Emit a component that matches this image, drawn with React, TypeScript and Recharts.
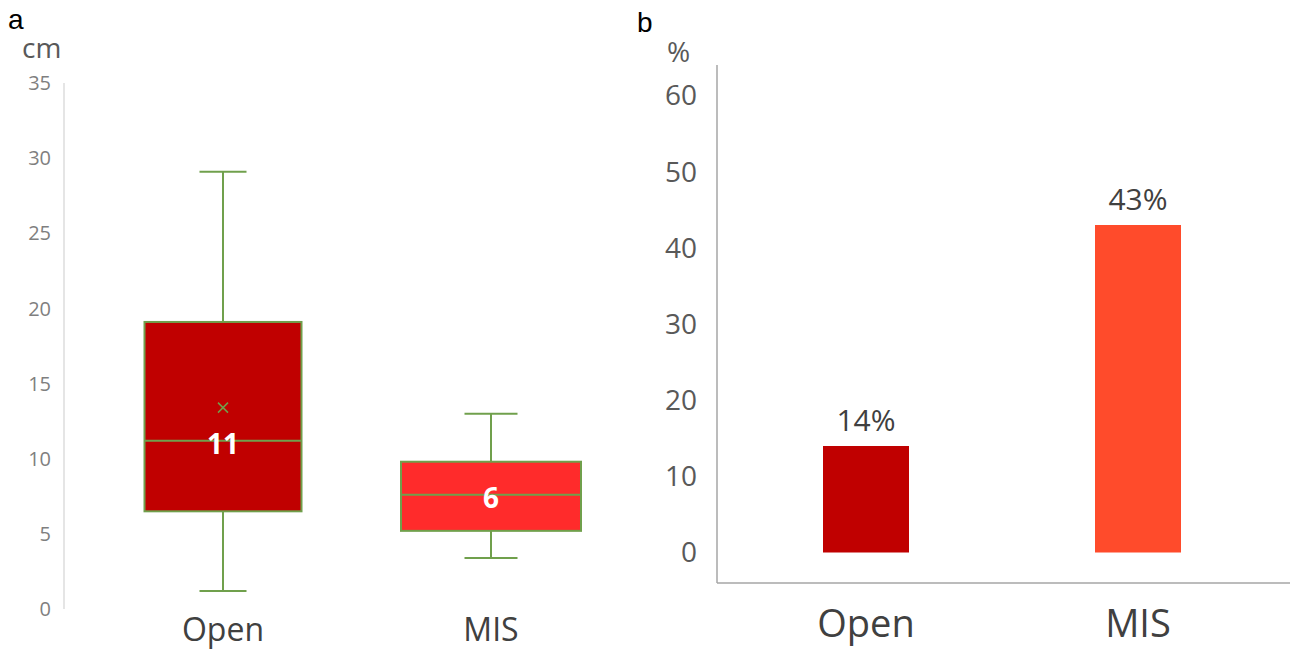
import { ComposedChart, BarChart, Bar, XAxis, YAxis, Cell, LabelList } from "recharts";

// panel a: length distribution (cm)
const boxCategories = ["Open", "MIS"];
const boxMin = [1.2, 3.4];
const boxQ1 = [6.5, 5.2];
const boxMedian = [11.2, 7.6];
const boxQ3 = [19.1, 9.8];
const boxMax = [29.1, 13.0];
const boxMean: (number | null)[] = [13.4, null];
const boxMedianLabels = ["11", "6"];
const boxTicks = [0, 5, 10, 15, 20, 25, 30, 35];

// panel b: rate (%)
const rateCategories = ["Open", "MIS"];
const rateValues = [14, 43];
const rateTicks = [0, 10, 20, 30, 40, 50, 60];

const boxData = boxCategories.map((name, i) => ({
  name,
  min: boxMin[i],
  q1: boxQ1[i],
  median: boxMedian[i],
  q3: boxQ3[i],
  max: boxMax[i],
  mean: boxMean[i],
  label: boxMedianLabels[i],
}));

const rateData = rateCategories.map((name, i) => ({ name, value: rateValues[i] }));

const GREEN = "#70a04c";
const FONT = "'Open Sans', sans-serif";
const boxLook: Record<string, { fill: string; width: number; cap: number }> = {
  Open: { fill: "#c00000", width: 157, cap: 47 },
  MIS: { fill: "#ff2b2b", width: 180, cap: 53 },
};
const barFills = ["#c00000", "#ff4b2b"];

const BoxShape = (props: any) => {
  const { x, y, width, height, payload } = props;
  const look = boxLook[payload.name];
  const ppu = height / (payload.max - payload.min);
  const py = (v: number) => y + (payload.max - v) * ppu;
  const cx = x + width / 2;
  const left = cx - look.width / 2;
  const right = cx + look.width / 2;
  return (
    <g>
      <line x1={cx} x2={cx} y1={py(payload.max)} y2={py(payload.q3)} stroke={GREEN} strokeWidth={2} />
      <line x1={cx} x2={cx} y1={py(payload.q1)} y2={py(payload.min)} stroke={GREEN} strokeWidth={2} />
      <line x1={cx - look.cap / 2} x2={cx + look.cap / 2} y1={py(payload.max)} y2={py(payload.max)} stroke={GREEN} strokeWidth={2} />
      <line x1={cx - look.cap / 2} x2={cx + look.cap / 2} y1={py(payload.min)} y2={py(payload.min)} stroke={GREEN} strokeWidth={2} />
      <rect
        x={left}
        y={py(payload.q3)}
        width={look.width}
        height={py(payload.q1) - py(payload.q3)}
        fill={look.fill}
        stroke={GREEN}
        strokeWidth={2}
      />
      <line x1={left} x2={right} y1={py(payload.median)} y2={py(payload.median)} stroke={GREEN} strokeWidth={2} />
      {payload.mean != null && (
        <g stroke={GREEN} strokeWidth={1.5}>
          <line x1={cx - 5} x2={cx + 5} y1={py(payload.mean) - 5} y2={py(payload.mean) + 5} />
          <line x1={cx - 5} x2={cx + 5} y1={py(payload.mean) + 5} y2={py(payload.mean) - 5} />
        </g>
      )}
      <text
        x={cx}
        y={py(payload.median) + 2}
        textAnchor="middle"
        dominantBaseline="central"
        fill="#ffffff"
        fontFamily={FONT}
        fontWeight={700}
        fontSize={28}
      >
        {payload.label}
      </text>
    </g>
  );
};

const panelLetter = {
  position: "absolute" as const,
  fontFamily: "'Liberation Sans', Arial, sans-serif",
  fontSize: 28,
  color: "#000",
  lineHeight: 1,
};

const unitText = {
  position: "absolute" as const,
  fontFamily: FONT,
  fontSize: 28,
  color: "#595959",
  lineHeight: 1,
};

export default function App() {
  return (
    <div style={{ position: "absolute", left: 0, top: 0, width: 1291, height: 649, background: "#fff" }}>
      <div style={{ ...panelLetter, left: 8, top: 6 }}>a</div>
      <div style={{ ...unitText, left: 22, top: 33 }}>cm</div>
      <div style={{ ...panelLetter, left: 637, top: 9 }}>b</div>
      <div style={{ ...unitText, left: 667, top: 37 }}>%</div>

      <div style={{ position: "absolute", left: 0, top: 0 }}>
        <ComposedChart width={640} height={649} data={boxData} margin={{ top: 83, right: 15, bottom: 0, left: 0 }}>
          <XAxis
            dataKey="name"
            axisLine={false}
            tickLine={false}
            tickSize={0}
            tickMargin={9}
            height={40}
            padding={{ left: 25, right: 0 }}
            tick={{ fontSize: 32, fill: "#404040", fontFamily: FONT }}
          />
          <YAxis
            type="number"
            domain={[0, 35]}
            ticks={boxTicks}
            width={64}
            axisLine={{ stroke: "#dcdcdc", strokeWidth: 1.5 }}
            tickLine={false}
            tickSize={0}
            tickMargin={13}
            tick={{ fontSize: 20, fill: "#7f7f7f", fontFamily: FONT }}
          />
          <Bar
            dataKey={(d: any) => [d.min, d.max]}
            barSize={180}
            shape={BoxShape}
            isAnimationActive={false}
          />
        </ComposedChart>
      </div>

      <div style={{ position: "absolute", left: 640, top: 0 }}>
        <BarChart width={651} height={649} data={rateData} margin={{ top: 65, right: 1, bottom: 0, left: 0 }}>
          <XAxis
            dataKey="name"
            axisLine={{ stroke: "#a6a6a6", strokeWidth: 1.5 }}
            tickLine={false}
            tickSize={0}
            tickMargin={27}
            height={66}
            padding={{ left: 13, right: 16 }}
            tick={{ fontSize: 38, fill: "#404040", fontFamily: FONT }}
          />
          <YAxis
            type="number"
            domain={[-4, 64]}
            ticks={rateTicks}
            width={77}
            axisLine={{ stroke: "#a6a6a6", strokeWidth: 1.5 }}
            tickLine={false}
            tickSize={0}
            tickMargin={20}
            tick={{ fontSize: 28, fill: "#595959", fontFamily: FONT }}
          />
          <Bar dataKey="value" barSize={86} isAnimationActive={false}>
            {rateData.map((d, i) => (
              <Cell key={d.name} fill={barFills[i]} />
            ))}
            <LabelList
              dataKey="value"
              position="top"
              offset={15}
              formatter={(v: any) => `${v}%`}
              style={{ fontSize: 30, fill: "#404040", fontFamily: FONT }}
            />
          </Bar>
        </BarChart>
      </div>
    </div>
  );
}
